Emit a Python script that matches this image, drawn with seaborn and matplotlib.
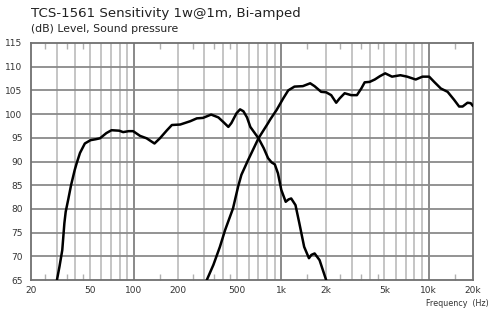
import numpy as np
import pandas as pd
import matplotlib
matplotlib.use("Agg")
import matplotlib.pyplot as plt
import seaborn as sns
from matplotlib.ticker import FixedLocator, NullFormatter

# woofer (low) curve
woofer_hz = [30, 31.2, 32.6, 33.7, 34.4, 35.9, 37.4, 39.6, 40.8, 43, 46.4, 50.7, 55,
             58.8, 65, 70.4, 79.4, 84.4, 91.9, 98.7, 110, 121.7, 137.8, 150, 167.5,
             180.8, 206, 241, 267, 294, 334, 374, 405, 437, 458, 497, 525, 553, 585,
             616, 660, 700, 760, 813, 860, 903, 949, 1000, 1071, 1120, 1167, 1248,
             1325, 1429, 1540, 1600, 1683, 1818, 2015]
woofer_db = [65, 67.8, 71.3, 77, 79.4, 82.2, 85, 88.2, 89.6, 91.8, 93.8, 94.5, 94.7,
             94.9, 96, 96.6, 96.5, 96.2, 96.4, 96.4, 95.4, 94.9, 93.8, 94.9, 96.6,
             97.7, 97.8, 98.5, 99.1, 99.2, 99.9, 99.3, 98.3, 97.3, 98.1, 100.2, 101,
             100.6, 99.3, 97.3, 96, 94.9, 92.8, 90.7, 89.8, 89.4, 87.5, 84, 81.5, 82,
             82.2, 80.8, 77, 72, 69.6, 70.3, 70.6, 69.2, 65]

# tweeter (high) curve
tweeter_hz = [312, 346, 383, 415, 470, 509, 536, 595, 700, 813, 838, 930, 1030, 1114,
              1228, 1400, 1570, 1680, 1863, 2015, 2180, 2358, 2486, 2690, 2980, 3260,
              3490, 3680, 3980, 4310, 4670, 5070, 5640, 6430, 7150, 8170, 9080, 10080,
              10900, 12100, 13450, 14900, 16100, 17000, 18360, 19300, 20000]
tweeter_db = [65, 68.2, 72, 75.5, 80.1, 84.7, 87.2, 90.3, 94.9, 98.1, 98.8, 100.9,
              103.3, 105.0, 105.8, 105.9, 106.5, 105.9, 104.7, 104.6, 104.0, 102.4,
              103.3, 104.4, 104.0, 104.0, 105.4, 106.7, 106.8, 107.3, 108.0, 108.6,
              107.9, 108.2, 107.9, 107.3, 107.9, 107.9, 106.8, 105.4, 104.7, 103.0,
              101.6, 101.6, 102.4, 102.3, 101.7]

x_ticks = [20, 50, 100, 200, 500, 1000, 2000, 5000, 10000, 20000]
x_labels = ["20", "50", "100", "200", "500", "1k", "2k", "5k", "10k", "20k"]
y_ticks = [65, 70, 75, 80, 85, 90, 95, 100, 105, 110, 115]

df = pd.concat([
    pd.DataFrame({"hz": woofer_hz, "db": woofer_db, "unit": "woofer"}),
    pd.DataFrame({"hz": tweeter_hz, "db": tweeter_db, "unit": "tweeter"}),
])

sns.set_style("white")
plt.rcParams["font.family"] = ["DejaVu Sans"]

fig = plt.figure(figsize=(4.91, 3.15), dpi=100)
ax = fig.add_axes([31 / 491, 35 / 315, 442 / 491, 237 / 315])

# vertical grid: light lines, decades darker
vlines = [30, 40, 50, 60, 70, 80, 90, 200, 300, 400, 500, 600, 700, 800, 900,
          2000, 3000, 4000, 5000, 6000, 7000, 8000, 9000]
for v in vlines:
    ax.axvline(v, color="#c0c0c0", lw=1.3, zorder=1)
for v in [100, 1000, 10000]:
    ax.axvline(v, color="#808080", lw=1.3, zorder=1)
for h in y_ticks[1:-1]:
    ax.axhline(h, color="#8a8a8a", lw=1.3, zorder=1)

sns.lineplot(data=df, x="hz", y="db", units="unit", estimator=None, sort=False,
             color="black", lw=1.8, ax=ax, zorder=3)

ax.set_xscale("log")
ax.set_xlim(20, 20000)
ax.set_ylim(65, 115)
ax.set_xticks(x_ticks)
ax.set_xticklabels(x_labels)
ax.xaxis.set_minor_locator(FixedLocator([25, 35, 45, 150, 250, 350, 450,
                                         1500, 2500, 3500, 4500, 15000]))
ax.xaxis.set_minor_formatter(NullFormatter())
ax.set_yticks(y_ticks)
ax.tick_params(axis="y", which="major", length=0, labelsize=6.5,
               labelcolor="#333333", pad=6)
ax.tick_params(axis="x", which="major", length=0, labelsize=6.5,
               labelcolor="#333333", pad=4)
ax.tick_params(axis="x", which="minor", direction="in", length=4, width=1,
               color="#b0b0b0", top=True, bottom=True)
ax.set_xlabel("")
ax.set_ylabel("")
for s in ax.spines.values():
    s.set_color("#707070")
    s.set_linewidth(1.3)

fig.text(31 / 491, 1 - 13 / 315, "TCS-1561 Sensitivity 1w@1m, Bi-amped",
         fontsize=9.6, color="#222222", va="center", ha="left")
fig.text(31 / 491, 1 - 29 / 315, "(dB) Level, Sound pressure",
         fontsize=7.8, color="#222222", va="center", ha="left")
fig.text(489 / 491, 1 - 304 / 315, "Frequency  (Hz)",
         fontsize=5.8, color="#333333", va="center", ha="right")

fig.savefig("out.png", dpi=100)
